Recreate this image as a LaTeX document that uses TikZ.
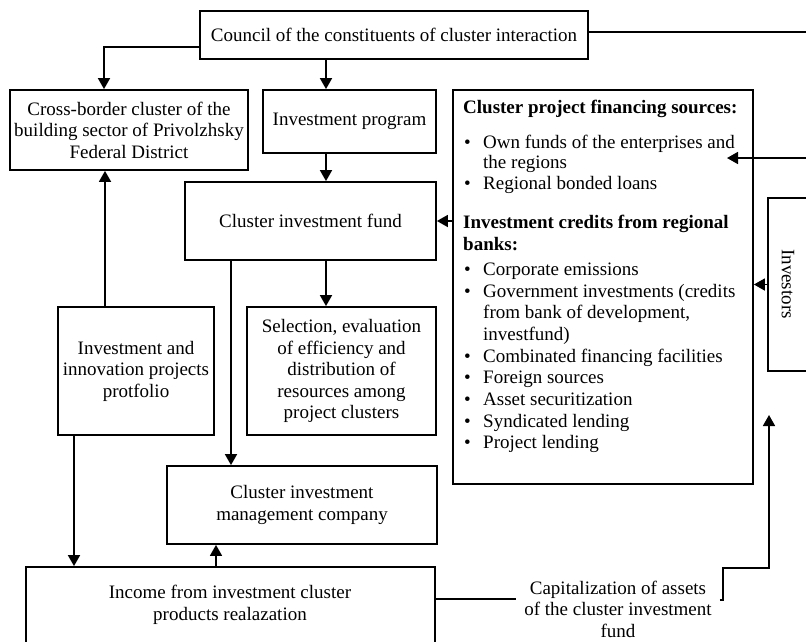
\documentclass[tikz,border=0pt]{standalone}
\usepackage{fontspec}
\setmainfont{Liberation Serif}
\usetikzlibrary{arrows.meta}
\newcommand\dfont{\fontsize{19}{21.5}\selectfont}
\newcommand\bul{\makebox[19pt][l]{•}}
\begin{document}
\begin{tikzpicture}[x=1pt,y=-1pt,
  box/.style={draw,line width=1.8pt,inner sep=2pt,align=center,font=\dfont},
  txt/.style={inner sep=0pt,font=\dfont,anchor=base west},
  arr/.style={-{Triangle[length=11pt,width=12pt]},line width=1.7pt},
  ln/.style={line width=1.7pt}]
\useasboundingbox (0,0) rectangle (806,641);

\node[box,minimum width=388pt,minimum height=48pt] (council) at (394,35) {Council of the constituents of cluster interaction};
\node[box,minimum width=238pt,minimum height=80pt] (cross) at (129,130) {Cross-border cluster of the\\building sector of Privolzhsky\\Federal District};
\node[box,minimum width=173pt,minimum height=63pt] (prog) at (349.5,121.5) {Investment program};
\node[box,minimum width=251pt,minimum height=78pt] (fund) at (310.5,221) {Cluster investment fund};
\node[box,minimum width=300pt,minimum height=394pt] (fin) at (603,287) {};
\node[box,minimum width=62pt,minimum height=173pt] (inv) at (799,284.5) {};
\node[font=\dfont,rotate=-90,inner sep=0pt] (invt) at (788,284) {Investors};
\node[box,minimum width=189pt,minimum height=128pt] (sel) at (341.5,371) {Selection, evaluation\\of efficiency and\\distribution of\\resources among\\project clusters};
\node[box,minimum width=156pt,minimum height=128pt] (port) at (136,371) {Investment and\\innovation projects\\protfolio};
\node[box,minimum width=270pt,minimum height=78pt] (mgmt) at (302,505) {Cluster investment\\management company};
\node[box,minimum width=409pt,minimum height=113pt] (inc) at (230.5,623.5) {};
\node[font=\dfont,align=center,inner sep=0pt] (inct) at (230,605) {Income from investment cluster\\products realazation};
\node[font=\dfont,align=center,inner sep=8pt] (cap) at (618,609) {Capitalization of assets\\of the cluster investment\\fund};

% financing sources text
\node[txt,font=\dfont\bfseries] (f1) at (463,113) {Cluster project financing sources:};
\node[txt] (f2) at (464,148) {\bul Own funds of the enterprises and};
\node[txt] (f3) at (483,168) {the regions};
\node[txt] (f4) at (464,189) {\bul Regional bonded loans};
\node[txt,font=\dfont\bfseries] (f5) at (463,228) {Investment credits from regional};
\node[txt,font=\dfont\bfseries] (f6) at (463,250) {banks:};
\node[txt] (f7) at (464,275) {\bul Corporate emissions};
\node[txt] (f8) at (464,297) {\bul Government investments (credits};
\node[txt] (f9) at (483,318) {from bank of development,};
\node[txt] (f10) at (483,340) {investfund)};
\node[txt] (f11) at (464,362) {\bul Combinated financing facilities};
\node[txt] (f12) at (464,383) {\bul Foreign sources};
\node[txt] (f13) at (464,405) {\bul Asset securitization};
\node[txt] (f14) at (464,427) {\bul Syndicated lending};
\node[txt] (f15) at (464,448) {\bul Project lending};

% coordinates
\coordinate (xa) at (326,0);
\coordinate (xb) at (231,0);
\coordinate (xc) at (105,0);
\coordinate (xd) at (74,0);
\coordinate (xe) at (216,0);
\coordinate (ce) at (806,32);
\coordinate (rin) at (806,158);
\coordinate (own) at (727,158);
\coordinate (capl) at (0,599);
\coordinate (bk) at (769,568);
\coordinate (up) at (769,415);

% connectors
\draw[arr] ([yshift=-12pt]council.west) -| ([xshift=-25pt]cross.north);
\draw[arr] (council.south -| xa) -- (prog.north -| xa);
\draw[arr] (prog.south -| xa) -- (fund.north -| xa);
\draw[arr] (fund.south -| xa) -- (sel.north -| xa);
\draw[arr] (fin.west |- fund.east) -- (fund.east);
\draw[arr] (fund.south -| xb) -- (mgmt.north -| xb);
\draw[arr] (port.north -| xc) -- (cross.south -| xc);
\draw[arr] (port.south -| xd) -- (inc.north -| xd);
\draw[arr] (inc.north -| xe) -- (mgmt.south -| xe);
\draw[ln] (council.east |- ce) -- (ce);
\draw[arr] (rin) -- (own);
\draw[arr] (inv.west) -- (fin.east |- inv.west);
\draw[ln] (inc.east |- capl) -- (cap.west |- capl);
\draw[arr] ([yshift=9pt]cap.east) -- ++(3,0) |- (bk) -- (up);
\end{tikzpicture}
\end{document}
